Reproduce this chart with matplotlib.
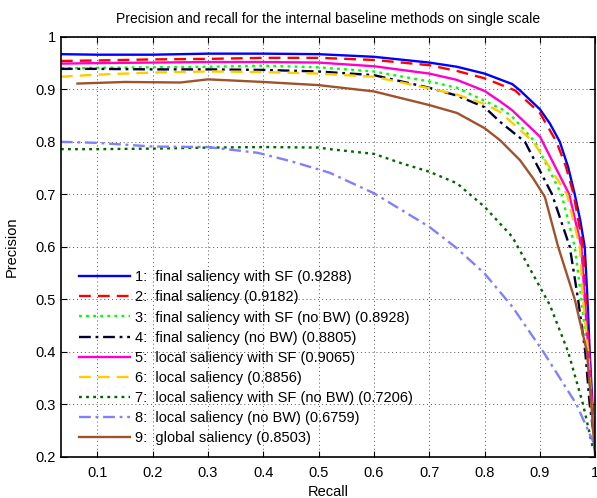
import numpy as np
import matplotlib
matplotlib.use('Agg')
import matplotlib.pyplot as plt
from matplotlib.ticker import FormatStrFormatter

plt.rcParams['font.family'] = ['Liberation Sans', 'DejaVu Sans']

#%% data
names = ['final saliency with SF', 'final saliency', 'final saliency with SF (no BW)',
         'final saliency (no BW)', 'local saliency with SF', 'local saliency',
         'local saliency with SF (no BW)', 'local saliency (no BW)', 'global saliency']
auc = ['0.9288', '0.9182', '0.8928', '0.8805', '0.9065', '0.8856', '0.7206', '0.6759', '0.8503']

r1 = [0.034, 0.1, 0.2, 0.3, 0.4, 0.5, 0.6, 0.7, 0.75, 0.8, 0.85, 0.864, 0.9, 0.918, 0.936, 0.951, 0.963, 0.973, 0.981, 0.986, 0.99, 0.995, 1.0]
p1 = [0.967, 0.966, 0.966, 0.968, 0.968, 0.967, 0.962, 0.951, 0.943, 0.930, 0.910, 0.898, 0.862, 0.835, 0.8, 0.752, 0.7, 0.65, 0.6, 0.5, 0.4, 0.3, 0.21]

r2 = [0.034, 0.1, 0.2, 0.3, 0.4, 0.5, 0.6, 0.7, 0.75, 0.8, 0.855, 0.9, 0.93, 0.947, 0.961, 0.978, 0.983, 0.989, 0.994, 1.0]
p2 = [0.954, 0.955, 0.957, 0.958, 0.96, 0.96, 0.956, 0.946, 0.935, 0.921, 0.898, 0.855, 0.8, 0.753, 0.7, 0.6, 0.5, 0.4, 0.3, 0.21]

r3 = [0.034, 0.1, 0.2, 0.3, 0.4, 0.5, 0.6, 0.7, 0.75, 0.8, 0.83, 0.85, 0.891, 0.939, 0.963, 0.975, 0.986, 0.993, 1.0]
p3 = [0.94, 0.941, 0.942, 0.943, 0.945, 0.942, 0.934, 0.915, 0.903, 0.878, 0.863, 0.848, 0.8, 0.7, 0.6, 0.5, 0.4, 0.3, 0.21]

r4 = [0.034, 0.1, 0.2, 0.3, 0.4, 0.5, 0.6, 0.7, 0.75, 0.8, 0.828, 0.873, 0.922, 0.954, 0.969, 0.982, 0.99, 1.0]
p4 = [0.939, 0.939, 0.938, 0.938, 0.937, 0.934, 0.927, 0.903, 0.888, 0.866, 0.838, 0.8, 0.7, 0.6, 0.5, 0.4, 0.3, 0.22]

r5 = [0.034, 0.1, 0.2, 0.3, 0.4, 0.5, 0.6, 0.7, 0.75, 0.8, 0.828, 0.85, 0.9, 0.953, 0.975, 0.981, 0.988, 0.994, 1.0]
p5 = [0.949, 0.95, 0.951, 0.952, 0.952, 0.951, 0.944, 0.93, 0.918, 0.897, 0.877, 0.86, 0.81, 0.7, 0.6, 0.5, 0.4, 0.3, 0.21]

r6 = [0.034, 0.1, 0.2, 0.3, 0.4, 0.5, 0.6, 0.7, 0.75, 0.8, 0.828, 0.888, 0.949, 0.972, 0.978, 0.987, 0.993, 1.0]
p6 = [0.924, 0.928, 0.932, 0.934, 0.933, 0.93, 0.924, 0.902, 0.89, 0.872, 0.857, 0.8, 0.7, 0.6, 0.5, 0.4, 0.3, 0.21]

r7 = [0.034, 0.1, 0.2, 0.3, 0.4, 0.5, 0.52, 0.6, 0.65, 0.7, 0.75, 0.8, 0.85, 0.87, 0.918, 0.951, 0.978, 0.995]
p7 = [0.786, 0.786, 0.787, 0.789, 0.79, 0.789, 0.786, 0.777, 0.759, 0.743, 0.721, 0.676, 0.619, 0.581, 0.489, 0.4, 0.3, 0.22]

r8 = [0.034, 0.1, 0.2, 0.3, 0.39, 0.45, 0.52, 0.6, 0.65, 0.7, 0.75, 0.8, 0.85, 0.906, 0.966, 1.0]
p8 = [0.8, 0.798, 0.791, 0.79, 0.779, 0.763, 0.741, 0.702, 0.67, 0.638, 0.597, 0.549, 0.486, 0.4, 0.3, 0.22]

r9 = [0.064, 0.15, 0.25, 0.3, 0.4, 0.5, 0.6, 0.7, 0.75, 0.8, 0.828, 0.864, 0.888, 0.909, 0.933, 0.963, 0.985, 0.993, 1.0]
p9 = [0.911, 0.914, 0.913, 0.919, 0.914, 0.908, 0.896, 0.87, 0.855, 0.826, 0.803, 0.765, 0.73, 0.695, 0.6, 0.5, 0.4, 0.3, 0.2]

recalls = [r1, r2, r3, r4, r5, r6, r7, r8, r9]
precisions = [p1, p2, p3, p4, p5, p6, p7, p8, p9]

colors = ['#0000ff', '#ff0000', '#00ff00', '#000033', '#ff00cc', '#ffcc00', '#006600', '#8080ff', '#a0522d']
styles = ['-', (0, (5, 3)), (0, (1.2, 1.8)), (0, (5, 2, 1.2, 2)), '-', (0, (5, 3)),
          (0, (1.2, 1.8)), (0, (5, 2, 1.2, 2)), '-']

#%% plot
fig = plt.figure(figsize=(5.97, 4.98), dpi=100)
ax = fig.add_axes([0.102, 0.083, 0.895, 0.843])

for i in range(len(names)):
    ax.plot(recalls[i], precisions[i], color=colors[i], linestyle=styles[i], linewidth=1.7,
            label='%d:  %s (%s)' % (i + 1, names[i], auc[i]))

ax.set_xlim(0.034, 1.0)
ax.set_ylim(0.2, 1.0)
ax.set_xticks(np.arange(0.1, 1.01, 0.1))
ax.set_yticks(np.arange(0.2, 1.01, 0.1))
ax.xaxis.set_major_formatter(FormatStrFormatter('%g'))
ax.yaxis.set_major_formatter(FormatStrFormatter('%g'))
ax.tick_params(direction='in', top=True, right=True, labelsize=10.5, length=4)
ax.tick_params(axis='x', pad=7)
ax.grid(True, linestyle=(0, (1, 3)), color='#555555', linewidth=0.7)
for s in ax.spines.values():
    s.set_linewidth(1.2)

ax.set_xlabel('Recall', fontsize=10.5, labelpad=3)
ax.set_ylabel('Precision', fontsize=10.5, labelpad=12)
ax.set_title('Precision and recall for the internal baseline methods on single scale', fontsize=10, pad=10)

ax.legend(loc='lower left', bbox_to_anchor=(0.034, 0.027), frameon=False, fontsize=10.5,
          borderpad=0, borderaxespad=0, handlelength=3.5, handletextpad=0.35, labelspacing=0.42)

fig.savefig('out.png', dpi=100)
